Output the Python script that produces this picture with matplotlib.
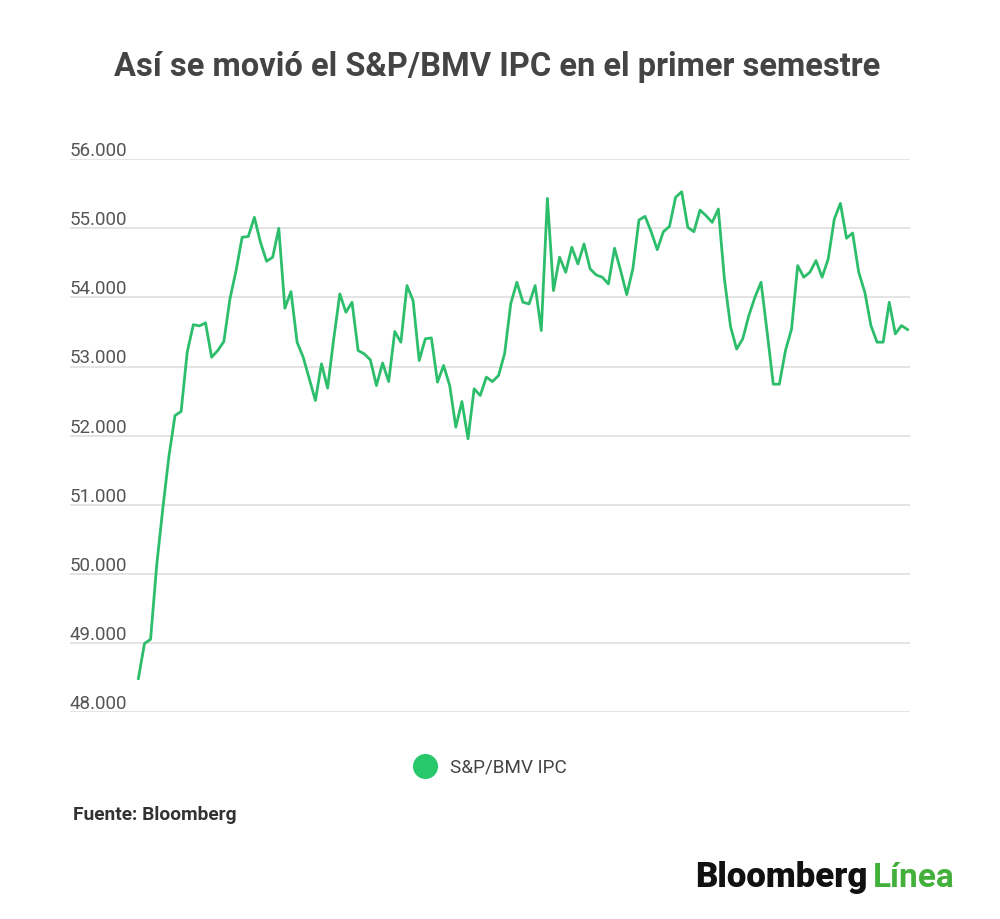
import matplotlib
matplotlib.use("Agg")
import matplotlib.pyplot as plt
from matplotlib.lines import Line2D

plt.rcParams['font.family'] = ['Roboto', 'DejaVu Sans']

# datos del indice (un punto por sesion)
ipc = [48491, 48996, 49058, 50127, 50946, 51700, 52293, 52351, 53208, 53607,
       53588, 53632, 53136, 53232, 53362, 53978, 54387, 54870, 54880, 55158,
       54797, 54523, 54581, 54999, 53844, 54084, 53353, 53136, 52823, 52510,
       53040, 52689, 53401, 54051, 53786, 53930, 53232, 53184, 53097, 52726,
       53052, 52784, 53507, 53353, 54171, 53954, 53088, 53401, 53415, 52775,
       53016, 52726, 52125, 52495, 51957, 52679, 52582, 52848, 52784, 52871,
       53190, 53910, 54219, 53930, 53906, 54171, 53521, 55432, 54099, 54581,
       54364, 54725, 54484, 54773, 54412, 54325, 54292, 54195, 54711, 54387,
       54041, 54412, 55119, 55172, 54950, 54690, 54950, 55027, 55447, 55528,
       55013, 54950, 55263, 55181, 55085, 55278, 54267, 53581, 53253, 53401,
       53737, 54003, 54219, 53497, 52746, 52746, 53232, 53545, 54460, 54292,
       54364, 54532, 54292, 54556, 55134, 55360, 54855, 54932, 54364, 54075,
       53593, 53353, 53353, 53930, 53473, 53593, 53535]
yticks = [48000, 49000, 50000, 51000, 52000, 53000, 54000, 55000, 56000]
ylabels = ["48.000", "49.000", "50.000", "51.000", "52.000", "53.000", "54.000", "55.000", "56.000"]
serie = "S&P/BMV IPC"

fig = plt.figure(figsize=(10, 9.2), dpi=100)
ax = fig.add_axes([0.07, 0.2245, 0.84, 0.6015])

for v in yticks:
    ax.axhline(v, color="#dddddd", lw=1.1, zorder=1)
ax.plot(range(len(ipc)), ipc, color="#2DBE6C", lw=2.0, zorder=3)

ax.set_xlim(-11.2, 126.4)
ax.set_ylim(48000, 56000)
ax.set_xticks([])
ax.set_yticks([])
for s in ax.spines.values():
    s.set_visible(False)

tr = ax.get_yaxis_transform()
for v, lab in zip(yticks, ylabels):
    ax.annotate(lab, (0, v), xycoords=tr, xytext=(0, 3), textcoords="offset points",
                ha="left", va="baseline", fontsize=13.5, color="#555555")

fig.text(0.497, 0.927, "Así se movió el S&P/BMV IPC en el primer semestre",
         ha="center", va="center", fontsize=23.5, fontweight="bold", color="#444444")

# leyenda
fig.add_artist(Line2D([0.425], [0.1663], transform=fig.transFigure, marker="o",
                      markersize=17, color="#27C86A", linestyle="none"))
fig.text(0.450, 0.1663, serie, ha="left", va="center", fontsize=13.6, color="#444444")

fig.text(0.073, 0.1141, "Fuente: Bloomberg", ha="left", va="center",
         fontsize=13.8, fontweight="bold", color="#333333")

# logo
fig.text(0.695, 0.0457, "Bloomberg", ha="left", va="center", fontsize=25,
         fontweight="black", color="#111111")
fig.text(0.955, 0.0457, "Línea", ha="right", va="center", fontsize=24,
         fontweight="bold", color="#44B03C")

fig.savefig("out.png", dpi=100)
